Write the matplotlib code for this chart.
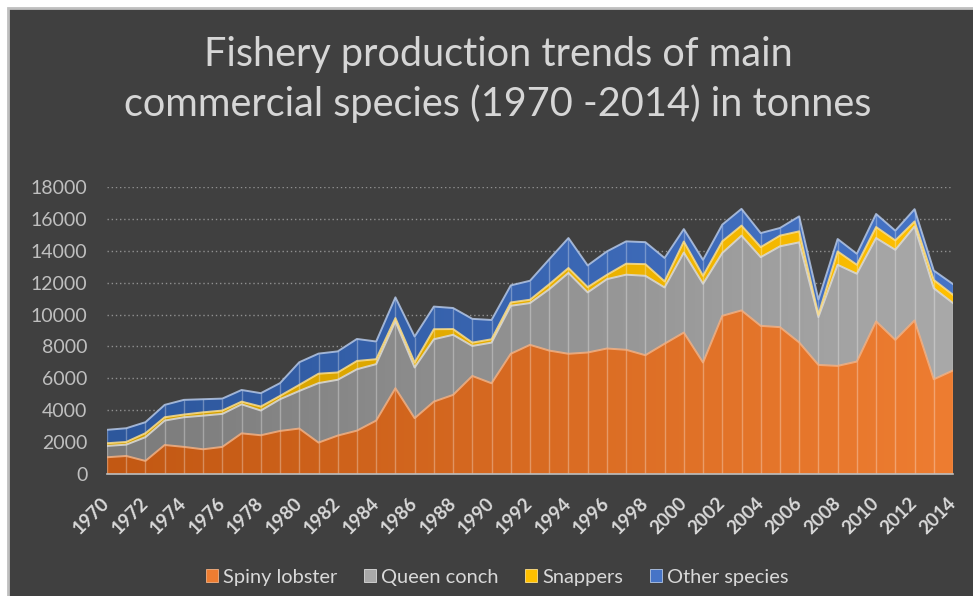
import numpy as np
import matplotlib.pyplot as plt
from matplotlib.patches import Rectangle
from matplotlib.colors import LinearSegmentedColormap

plt.rcParams['font.family'] = ['Lato', 'DejaVu Sans']

years = list(range(1970, 2015))
spiny_lobster = [1050, 1130, 820, 1820, 1700, 1550, 1700, 2550, 2430, 2700,
                 2850, 1970, 2410, 2720, 3350, 5380, 3500, 4540, 4960, 6150,
                 5690, 7540, 8100, 7740, 7540, 7620, 7870, 7790, 7450, 8170,
                 8870, 6990, 9920, 10260, 9290, 9210, 8250, 6840, 6780, 7050,
                 9570, 8410, 9630, 5940, 6490]
queen_conch = [710, 710, 1490, 1530, 1860, 2110, 2070, 1820, 1550, 1990,
               2360, 3730, 3500, 3850, 3540, 4190, 3180, 3910, 3770, 1880,
               2550, 3010, 2620, 3850, 5070, 3770, 4350, 4710, 4980, 3530,
               5020, 4940, 3940, 4690, 4310, 5070, 6280, 3000, 6340, 5510,
               5230, 5650, 5900, 5710, 4230]
snappers = [170, 170, 250, 210, 170, 210, 210, 170, 250, 210,
            380, 590, 460, 520, 310, 210, 310, 630, 360, 210,
            210, 210, 210, 310, 310, 330, 270, 690, 730, 380,
            690, 500, 730, 630, 630, 670, 690, 150, 840, 560,
            690, 590, 310, 520, 520]
other_species = [840, 860, 690, 775, 920, 820, 750, 730, 840, 800,
                 1420, 1260, 1320, 1380, 1110, 1300, 1630, 1420, 1320, 1490,
                 1210, 1070, 1190, 1570, 1880, 1360, 1470, 1400, 1380, 1470,
                 780, 1000, 1050, 1050, 880, 480, 940, 940, 780, 690,
                 820, 610, 770, 590, 670]
series_names = ["Spiny lobster", "Queen conch", "Snappers", "Other species"]
tick_years = list(range(1970, 2015, 2))
y_ticks = list(range(0, 18001, 2000))

# gradient start / end colours and the light outline for each layer
grad = [("#c25813", "#ee7d31"), ("#7b7b7b", "#a9a9a9"),
        ("#cf9d00", "#ffc000"), ("#2d579c", "#4674c7")]
edges = ["#f4b183", "#dcdcdc", "#ffe08a", "#b4c7e7"]
bg = "#404040"

fig = plt.figure(figsize=(9.73, 5.96), dpi=100)
fig.patch.set_facecolor("white")
fig.patches.append(Rectangle((8 / 973, -0.05), 1.1, 1 - 8 / 596 + 0.05,
                             transform=fig.transFigure, facecolor=bg,
                             edgecolor="#bfbfbf", lw=2, zorder=-5))

ax = fig.add_axes([107 / 973, 1 - 474 / 596, 846 / 973, 287 / 596])
ax.set_facecolor(bg)
ax.patch.set_alpha(0)

for yv in y_ticks[1:]:
    ax.axhline(yv, color="#909090", lw=1, ls=(0, (1, 2)), zorder=1)

layers = [spiny_lobster, queen_conch, snappers, other_species]
base = np.zeros(len(years))
gradient = np.linspace(0, 1, 256).reshape(1, -1)
for i, vals in enumerate(layers):
    top = base + np.array(vals)
    poly = ax.fill_between(years, base, top, facecolor="none", lw=0)
    cmap = LinearSegmentedColormap.from_list("g%d" % i, grad[i])
    im = ax.imshow(gradient, cmap=cmap, aspect="auto",
                   extent=[1970, 2014, 0, 18000], zorder=2)
    im.set_clip_path(poly.get_paths()[0], transform=ax.transData)
    ax.plot(years, top, color=edges[i], lw=1.4, alpha=0.85, zorder=4)
    base = top

ax.vlines(years, 0, base, color="white", alpha=0.3, lw=1, zorder=3)

ax.set_xlim(1970, 2014)
ax.set_ylim(0, 18000)
for s in ["top", "right", "left"]:
    ax.spines[s].set_visible(False)
ax.spines["bottom"].set_color("#bfbfbf")
ax.spines["bottom"].set_linewidth(1.2)
ax.spines["bottom"].set_zorder(5)

ax.set_yticks(y_ticks)
ax.set_yticklabels([str(v) for v in y_ticks], color="#bfbfbf", fontsize=14)
ax.set_xticks(tick_years)
ax.set_xticklabels([str(v) for v in tick_years], color="#d9d9d9",
                   fontsize=13.5, fontweight="bold", rotation=45,
                   ha="right", va="center", rotation_mode="anchor")
ax.tick_params(axis="both", length=0)
ax.tick_params(axis="y", pad=14)
ax.tick_params(axis="x", pad=19)

fig.text(0.512, 0.866,
         "Fishery production trends of main\ncommercial species (1970 -2014) in tonnes",
         ha="center", va="center", color="#d6d6d6", fontsize=28.5,
         linespacing=1.35)

handles = [Rectangle((0, 0), 1, 1, facecolor=grad[i][1], edgecolor=edges[i], lw=0.6)
           for i in range(4)]
leg = fig.legend(handles, series_names, loc="center", ncol=4, frameon=False,
                 bbox_to_anchor=(0.511, 1 - 577 / 596), fontsize=14.4,
                 handlelength=0.6, handleheight=0.6, handletextpad=0.25,
                 columnspacing=1.35)
for t in leg.get_texts():
    t.set_color("#d9d9d9")

fig.savefig("out.png", dpi=100, facecolor=fig.get_facecolor())
